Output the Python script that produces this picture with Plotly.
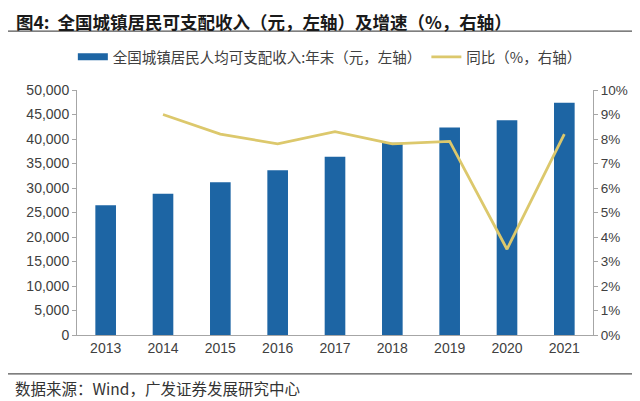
import plotly.graph_objects as go

years = ["2013", "2014", "2015", "2016", "2017", "2018", "2019", "2020", "2021"]
income = [26467, 28844, 31195, 33616, 36396, 39251, 42359, 43834, 47412]
growth_years = ["2014", "2015", "2016", "2017", "2018", "2019", "2020", "2021"]
growth = [9.0, 8.2, 7.8, 8.3, 7.8, 7.9, 3.5, 8.2]

bar_name = "全国城镇居民人均可支配收入:年末（元，左轴）"
line_name = "同比（%，右轴）"
title_text = "<b>图4:  全国城镇居民可支配收入（元，左轴）及增速（%，右轴）</b>"
source_text = "数据来源：Wind，广发证券发展研究中心"

cjk = "Noto Sans CJK SC"
latin = "Liberation Sans, Arial, sans-serif"
bar_col = "#1D65A4"
line_col = "#DCC86C"
axis_col = "#A6A6A6"
txt_col = "#404040"

fig = go.Figure()
fig.add_trace(go.Bar(x=years, y=income, name=bar_name, marker_color=bar_col,
                     marker_line_width=0, yaxis="y", showlegend=False))
# legend-only entry drawn as a wide bar swatch
fig.add_trace(go.Scatter(x=[None], y=[None], name=bar_name, mode="lines",
                         line=dict(color=bar_col, width=7), yaxis="y"))
fig.add_trace(go.Scatter(x=growth_years, y=growth, name=line_name, mode="lines",
                         line=dict(color=line_col, width=2.8), yaxis="y2"))

fig.update_layout(
    width=632, height=393,
    margin=dict(l=69, r=43, t=82, b=66),
    plot_bgcolor="white", paper_bgcolor="white",
    bargap=0.64,
    font=dict(family=latin, size=13, color=txt_col),
    showlegend=True,
    legend=dict(orientation="h", x=0.49, xanchor="center", y=1.135, yanchor="middle",
                font=dict(family=cjk, size=14.5, color=txt_col),
                traceorder="normal"),
    xaxis=dict(type="category", showgrid=False, showline=True, linecolor=axis_col,
               ticks="", tickfont=dict(family=latin, size=14, color=txt_col)),
    yaxis=dict(range=[0, 50000], dtick=5000, tickformat=",", showgrid=False,
               showline=True, linecolor=axis_col, ticks="outside", ticklen=4,
               tickcolor=axis_col, zeroline=False,
               tickfont=dict(family=latin, size=14, color=txt_col)),
    yaxis2=dict(range=[0, 10], dtick=1, ticksuffix="%", overlaying="y", side="right",
                showgrid=False, showline=True, linecolor=axis_col, ticks="outside",
                ticklen=4, tickcolor=axis_col, zeroline=False,
                tickfont=dict(family=latin, size=13.5, color=txt_col)),
)

fig.add_annotation(text=title_text, xref="paper", yref="paper", x=-0.122, y=1.281,
                   xanchor="left", yanchor="middle", showarrow=False,
                   font=dict(family=cjk, size=17.5, color="#1A1A1A"))
fig.add_annotation(text=source_text, xref="paper", yref="paper", x=-0.125, y=-0.216,
                   xanchor="left", yanchor="middle", showarrow=False,
                   font=dict(family=cjk, size=15.5, color="#333333"))
fig.add_shape(type="line", xref="paper", yref="paper", x0=-0.15, x1=1.09,
              y0=1.24, y1=1.24, line=dict(color="#555555", width=1.2))
fig.add_shape(type="line", xref="paper", yref="paper", x0=-0.15, x1=1.09,
              y0=-0.159, y1=-0.159, line=dict(color="#555555", width=1.2))

fig.write_html("out.html")
